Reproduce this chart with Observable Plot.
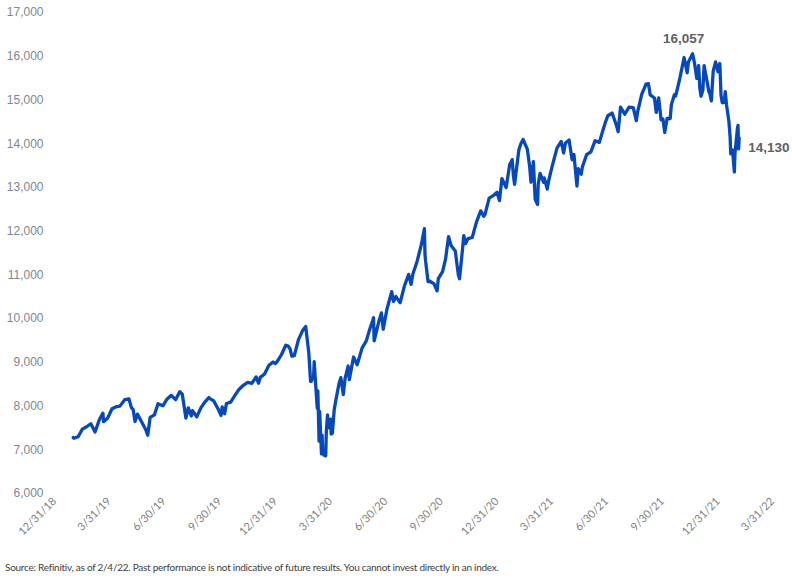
<!DOCTYPE html>
<html>
<head>
<meta charset="utf-8">
<script src="https://cdn.jsdelivr.net/npm/d3@7"></script>
<script src="https://cdn.jsdelivr.net/npm/@observablehq/plot@0.6"></script>
<style>
  html, body { margin: 0; padding: 0; background: #ffffff; }
  #wrap { position: relative; width: 792px; height: 578px; }
  #caption {
    position: absolute; left: 5px; top: 561px;
    font-family: Lato, "Open Sans", sans-serif; font-size: 10px; letter-spacing: -0.26px;
    color: #404040; white-space: nowrap;
  }
</style>
</head>
<body>
<div id="wrap">
  <div id="chart"></div>
  <div id="caption">Source: Refinitiv, as of 2/4/22. Past performance is not indicative of future results. You cannot invest directly in an index.</div>
</div>
<script>
// Index level closes, one pair of arrays per year
const dates2019 = [
  "2019-01-31","2019-02-01","2019-02-08","2019-02-15","2019-02-22","2019-03-01","2019-03-08","2019-03-15","2019-03-21","2019-03-22",
  "2019-03-29","2019-04-05","2019-04-12","2019-04-18","2019-04-26","2019-05-03","2019-05-07","2019-05-10","2019-05-13","2019-05-17",
  "2019-05-24","2019-05-31","2019-06-03","2019-06-07","2019-06-14","2019-06-20","2019-06-28","2019-07-05","2019-07-12","2019-07-19",
  "2019-07-26","2019-07-30","2019-08-02","2019-08-05","2019-08-09","2019-08-14","2019-08-16","2019-08-23","2019-08-30","2019-09-06",
  "2019-09-12","2019-09-13","2019-09-20","2019-09-27","2019-10-02","2019-10-04","2019-10-08","2019-10-11","2019-10-18","2019-10-25",
  "2019-11-01","2019-11-08","2019-11-15","2019-11-22","2019-11-29","2019-12-03","2019-12-06","2019-12-13","2019-12-20","2019-12-27",
  "2019-12-31"
];
const levels2019 = [
  7281,7263,7298,7472,7527,7595,7408,7688,7838,7643,
  7729,7938,7985,7998,8146,8164,7963,7917,7647,7816,
  7637,7453,7333,7742,7797,8051,8006,8162,8244,8146,
  8330,8273,8004,7726,7959,7774,7896,7751,7963,8103,
  8194,8177,8118,7940,7785,7982,7824,8057,8089,8243,
  8386,8475,8540,8520,8665,8521,8656,8735,8925,9006,
  8973
];
const dates2020 = [
  "2020-01-03","2020-01-10","2020-01-17","2020-01-21","2020-01-24","2020-01-27","2020-01-31","2020-02-07","2020-02-14","2020-02-19",
  "2020-02-21","2020-02-24","2020-02-27","2020-02-28","2020-03-03","2020-03-04","2020-03-06","2020-03-09","2020-03-10","2020-03-12",
  "2020-03-13","2020-03-16","2020-03-17","2020-03-18","2020-03-20","2020-03-23","2020-03-24","2020-03-26","2020-03-27","2020-03-31",
  "2020-04-01","2020-04-03","2020-04-06","2020-04-09","2020-04-14","2020-04-17","2020-04-21","2020-04-24","2020-04-29","2020-05-01",
  "2020-05-08","2020-05-14","2020-05-22","2020-05-29","2020-06-05","2020-06-08","2020-06-10","2020-06-11","2020-06-19","2020-06-23",
  "2020-06-26","2020-07-02","2020-07-10","2020-07-13","2020-07-17","2020-07-24","2020-07-31","2020-08-07","2020-08-11","2020-08-14",
  "2020-08-21","2020-08-28","2020-09-02","2020-09-03","2020-09-04","2020-09-08","2020-09-11","2020-09-18","2020-09-23","2020-09-25",
  "2020-10-02","2020-10-07","2020-10-09","2020-10-12","2020-10-16","2020-10-23","2020-10-28","2020-10-30","2020-11-04","2020-11-06",
  "2020-11-09","2020-11-13","2020-11-20","2020-11-27","2020-12-04","2020-12-09","2020-12-11","2020-12-18","2020-12-24","2020-12-31"
];
const levels2020 = [
  9020,9179,9389,9370,9315,9139,9151,9520,9731,9817,
  9577,9221,8566,8567,8684,9018,8575,7950,8344,7201,
  7875,6904,7335,6989,6880,6860,7418,7797,7502,7700,
  7360,7373,7913,8153,8516,8650,8263,8634,8915,8605,
  9121,8943,9325,9490,9814,9924,10020,9493,9946,10131,
  9757,10208,10617,10391,10503,10363,10745,11011,10782,11019,
  11312,11696,12056,11458,11313,10848,10854,10793,10633,10914,
  11075,11364,11580,11876,11672,11548,11005,10912,11590,11895,
  11713,11830,11855,12206,12464,12339,12378,12756,12805,12888
];
const dates2021 = [
  "2021-01-04","2021-01-08","2021-01-15","2021-01-21","2021-01-22","2021-01-25","2021-01-27","2021-01-29","2021-02-05","2021-02-08",
  "2021-02-12","2021-02-19","2021-02-23","2021-02-25","2021-02-26","2021-03-01","2021-03-04","2021-03-08","2021-03-09","2021-03-12",
  "2021-03-18","2021-03-19","2021-03-24","2021-03-26","2021-04-01","2021-04-09","2021-04-16","2021-04-20","2021-04-23","2021-04-29",
  "2021-05-04","2021-05-07","2021-05-12","2021-05-14","2021-05-19","2021-05-21","2021-05-28","2021-06-04","2021-06-11","2021-06-18",
  "2021-06-25","2021-06-29","2021-07-02","2021-07-09","2021-07-16","2021-07-19","2021-07-23","2021-07-30","2021-08-06","2021-08-13",
  "2021-08-18","2021-08-20","2021-08-27","2021-08-31","2021-09-03","2021-09-07","2021-09-10","2021-09-17","2021-09-20","2021-09-24",
  "2021-09-28","2021-10-01","2021-10-04","2021-10-08","2021-10-13","2021-10-15","2021-10-20","2021-10-22","2021-10-29","2021-11-05",
  "2021-11-10","2021-11-12","2021-11-16","2021-11-19","2021-11-22","2021-11-26","2021-11-29","2021-11-30","2021-12-01","2021-12-03",
  "2021-12-06","2021-12-08","2021-12-10","2021-12-13","2021-12-16","2021-12-17","2021-12-20","2021-12-23","2021-12-27","2021-12-31"
];
const levels2021 = [
  12698,13202,12999,13530,13543,13636,13271,13071,13856,13987,
  14095,13874,13465,13119,13192,13589,12723,12609,13073,13320,
  13116,13215,12962,13138,13480,13900,14052,13787,14016,14082,
  13633,13752,13031,13430,13299,13471,13749,13814,14069,14030,
  14360,14528,14639,14701,14427,14275,14837,14673,14836,14823,
  14526,14715,15130,15259,15364,15374,15115,15044,14714,15048,
  14546,14567,14256,14580,14572,14897,15121,15090,15498,15971,
  15623,15861,15974,16057,15855,15491,15783,15538,15254,15085,
  15225,15787,15630,15413,15180,15169,14980,15653,15871,15645
];
const dates2022 = [
  "2022-01-03","2022-01-05","2022-01-07","2022-01-10","2022-01-12","2022-01-14","2022-01-18","2022-01-20","2022-01-21","2022-01-24",
  "2022-01-27","2022-01-28","2022-02-01","2022-02-02","2022-02-03","2022-02-04"
];
const levels2022 = [
  15833,15100,14936,14942,15188,14893,14506,14155,13769,13855,
  13353,13771,14346,14417,13879,14130
];

// Quarter-end axis labels and value ticks
const tickDates = ["2018-12-31","2019-03-31","2019-06-30","2019-09-30","2019-12-31","2020-03-31","2020-06-30",
  "2020-09-30","2020-12-31","2021-03-31","2021-06-30","2021-09-30","2021-12-31","2022-03-31"];
const yTicks = [6000,7000,8000,9000,10000,11000,12000,13000,14000,15000,16000,17000];

// Called-out points: the all-time high and the latest close
const calloutDates = ["2021-11-19", "2022-02-04"];
const calloutLevels = [16057, 14130];

const allDates = [...dates2019, ...dates2020, ...dates2021, ...dates2022];
const allLevels = [...levels2019, ...levels2020, ...levels2021, ...levels2022];
const series = allDates.map((d, i) => ({date: new Date(d), level: allLevels[i]}));
const peak = [{date: new Date(calloutDates[0]), level: calloutLevels[0]}];
const last = [{date: new Date(calloutDates[1]), level: calloutLevels[1]}];
const fmt = d3.format(",");
const labelFont = "Liberation Sans, Arial, sans-serif";

const chart = Plot.plot({
  width: 792,
  height: 555,
  marginLeft: 54,
  marginRight: 20,
  marginTop: 12,
  marginBottom: 62,
  x: {type: "utc", domain: [new Date(tickDates[0]), new Date(tickDates[tickDates.length - 1])]},
  y: {domain: [6000, 17000]},
  style: {background: "#ffffff"},
  marks: [
    Plot.axisY({
      ticks: yTicks, tickSize: 0, tickPadding: 11, tickFormat: fmt, label: null,
      fill: "#7f8691", fontSize: 12, fontFamily: labelFont
    }),
    Plot.axisX({
      ticks: tickDates.map(d => new Date(d)), tickSize: 0, tickPadding: 6, tickRotate: -45,
      tickFormat: d3.utcFormat("%-m/%-d/%y"), label: null,
      fill: "#7f7f7f", fontSize: 11, fontFamily: "Lato, sans-serif"
    }),
    Plot.line(series, {x: "date", y: "level", stroke: "#0748bb", strokeWidth: 3.3, strokeLinejoin: "round"}),
    Plot.text(peak, {x: "date", y: "level", text: d => fmt(d.level), dx: -9, dy: -15,
      fontWeight: "bold", fontSize: 13.5, fill: "#5d6166", fontFamily: labelFont}),
    Plot.text(last, {x: "date", y: "level", text: d => fmt(d.level), dx: 9, dy: 10, textAnchor: "start",
      fontWeight: "bold", fontSize: 13.5, fill: "#5d6166", fontFamily: labelFont})
  ]
});
document.getElementById("chart").appendChild(chart);
</script>
</body>
</html>
